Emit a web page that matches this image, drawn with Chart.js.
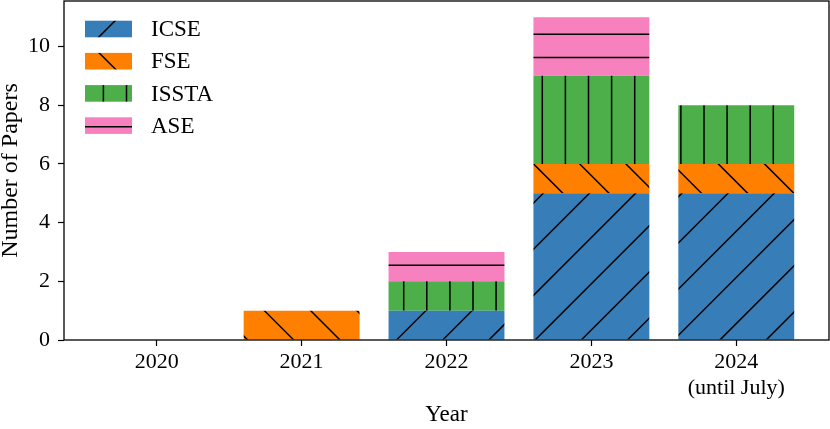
<!DOCTYPE html>
<html>
<head>
<meta charset="utf-8">
<title>Number of Papers per Year</title>
<script src="https://cdn.jsdelivr.net/npm/chart.js@4/dist/chart.umd.min.js"></script>
<style>
    html, body { margin: 0; padding: 0; background: #fff; }
    canvas { display: block; }
</style>
</head>
<body>
<canvas id="papersChart" width="830" height="429"></canvas>
<script>
// Values
const years = ['2020', '2021', '2022', '2023', ['2024', '(until July)']];
const icse = [0, 0, 1, 5, 5];
const fse = [0, 1, 0, 1, 1];
const issta = [0, 0, 1, 3, 2];
const ase = [0, 0, 1, 2, 0];
const yTicks = [0, 2, 4, 6, 8, 10];

const FONT = '"Liberation Serif", "Times New Roman", serif';
Chart.defaults.color = '#000';
Chart.defaults.font.family = FONT;

// Hatch fill, anchored to the canvas like matplotlib's hatches
function makeHatch(color, kind) {
    const T = 231;
    const tile = document.createElement('canvas');
    tile.width = T;
    tile.height = T;
    const c = tile.getContext('2d');
    c.fillStyle = color;
    c.fillRect(0, 0, T, T);
    c.strokeStyle = '#000';
    c.lineWidth = 1.5;
    c.beginPath();
    if (kind === '/') {
        for (let k = -2; k <= 11; k++) {
            const s = 43.5 + k * 46.2;
            c.moveTo(s + 20, -20);
            c.lineTo(s - T - 20, T + 20);
        }
    } else if (kind === '\\') {
        for (let k = -6; k <= 6; k++) {
            const s = k * 46.2;
            c.moveTo(s - 20, -20);
            c.lineTo(s + T + 20, T + 20);
        }
    } else if (kind === '|') {
        for (let k = 0; k < 10; k++) {
            const x = 11 + k * 23.1;
            c.moveTo(x, 0);
            c.lineTo(x, T);
        }
    } else if (kind === '-') {
        for (let k = 0; k < 10; k++) {
            const y = 11.2 + k * 23.1;
            c.moveTo(0, y);
            c.lineTo(T, y);
        }
    }
    c.stroke();
    return c.createPattern(tile, 'repeat');
}

function toPoints(values) {
    return values.map((v, i) => ({ x: i, y: v }));
}

// Box around the plot area
const framePlugin = {
    id: 'frame',
    afterDatasetsDraw(chart) {
        const { ctx, chartArea: a } = chart;
        ctx.save();
        ctx.strokeStyle = '#000';
        ctx.lineWidth = 1.3;
        ctx.strokeRect(a.left, a.top, a.right - a.left, a.bottom - a.top);
        ctx.restore();
    }
};

// Legend in the upper left, no frame
const legendPlugin = {
    id: 'hatchLegend',
    afterDraw(chart) {
        const ctx = chart.ctx;
        ctx.save();
        ctx.font = '23px ' + FONT;
        ctx.textBaseline = 'middle';
        chart.data.datasets.forEach((ds, i) => {
            const y = 20.7 + i * 32.2;
            ctx.fillStyle = ds.backgroundColor;
            ctx.fillRect(85, y, 47, 16.6);
            ctx.fillStyle = '#000';
            ctx.fillText(ds.label, 151, y + 9.5);
        });
        ctx.restore();
    }
};

new Chart(document.getElementById('papersChart'), {
    type: 'bar',
    data: {
        datasets: [
            { label: 'ICSE', data: toPoints(icse), backgroundColor: makeHatch('#377eb8', '/') },
            { label: 'FSE', data: toPoints(fse), backgroundColor: makeHatch('#ff7f00', '\\') },
            { label: 'ISSTA', data: toPoints(issta), backgroundColor: makeHatch('#4daf4a', '|') },
            { label: 'ASE', data: toPoints(ase), backgroundColor: makeHatch('#f781bf', '-') }
        ]
    },
    options: {
        responsive: false,
        animation: false,
        barPercentage: 0.8,
        categoryPercentage: 1.0,
        borderWidth: 0,
        layout: { padding: { left: 0, right: 1, top: 1, bottom: 0 } },
        plugins: {
            legend: { display: false },
            tooltip: { enabled: false }
        },
        scales: {
            x: {
                type: 'linear',
                stacked: true,
                offset: false,
                min: -0.64,
                max: 4.64,
                afterBuildTicks: (scale) => {
                    scale.ticks = years.map((_, i) => ({ value: i }));
                },
                afterFit: (scale) => {
                    scale.height = 89;
                    scale.paddingLeft = 0;
                    scale.paddingRight = 0;
                },
                grid: { offset: false, drawOnChartArea: false, color: '#000', tickLength: 6, tickWidth: 1.2 },
                border: { display: false },
                ticks: {
                    font: { size: 22 },
                    padding: 3,
                    maxRotation: 0,
                    autoSkip: false,
                    callback: (value) => years[value]
                },
                title: {
                    display: true,
                    text: 'Year',
                    font: { size: 23 },
                    padding: { top: 0, bottom: 0 }
                }
            },
            y: {
                stacked: true,
                min: 0,
                max: 11.55,
                afterBuildTicks: (scale) => {
                    scale.ticks = yTicks.map(v => ({ value: v }));
                },
                afterFit: (scale) => {
                    scale.width = 64;
                    scale.paddingTop = 0;
                    scale.paddingBottom = 0;
                },
                grid: { drawOnChartArea: false, color: '#000', tickLength: 6, tickWidth: 1.2 },
                border: { display: false },
                ticks: {
                    font: { size: 22 },
                    padding: 8
                },
                title: {
                    display: true,
                    text: 'Number of Papers',
                    font: { size: 24, lineHeight: 0.9 },
                    padding: 0
                }
            }
        }
    },
    plugins: [framePlugin, legendPlugin]
});
</script>
</body>
</html>
